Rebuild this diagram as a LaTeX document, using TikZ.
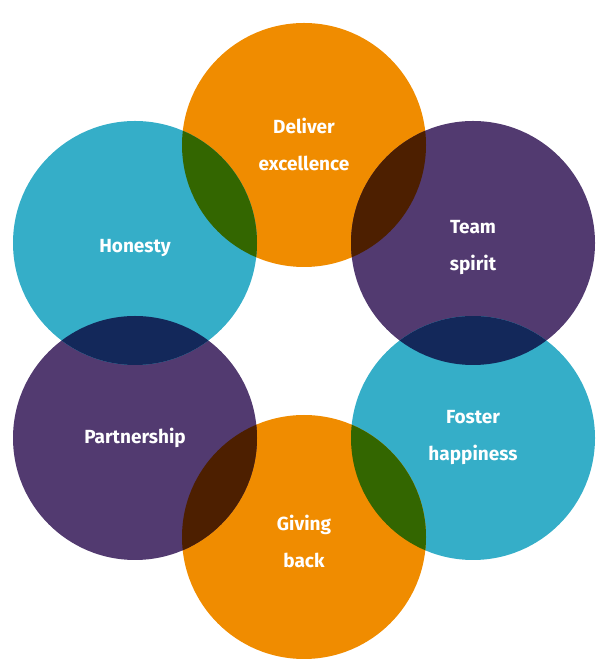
\documentclass[tikz,border=0pt]{standalone}
\usepackage{fontspec}
\setmainfont{Fira Sans}
\definecolor{org}{HTML}{F08C00}
\definecolor{tea}{HTML}{35AEC8}
\definecolor{pur}{HTML}{523A70}
\definecolor{grn}{HTML}{336600}
\definecolor{brn}{HTML}{4D1F00}
\definecolor{nav}{HTML}{13285A}
\begin{document}
\begin{tikzpicture}[x=1pt,y=1pt,
  lab/.style={text=white,font=\fontsize{19}{37}\selectfont\bfseries,align=center}]
\useasboundingbox (0,0) rectangle (612,672);
\def\R{122}
\coordinate (A) at (304,527);
\coordinate (B) at (473,429);
\coordinate (C) at (473,234);
\coordinate (D) at (304,135);
\coordinate (E) at (135,234);
\coordinate (F) at (135,429);
\fill[org] (A) circle (\R);
\fill[pur] (B) circle (\R);
\fill[tea] (C) circle (\R);
\fill[org] (D) circle (\R);
\fill[pur] (E) circle (\R);
\fill[tea] (F) circle (\R);
\begin{scope}\clip (A) circle (\R); \fill[brn] (B) circle (\R); \fill[grn] (F) circle (\R);\end{scope}
\begin{scope}\clip (C) circle (\R); \fill[nav] (B) circle (\R); \fill[grn] (D) circle (\R);\end{scope}
\begin{scope}\clip (E) circle (\R); \fill[brn] (D) circle (\R); \fill[nav] (F) circle (\R);\end{scope}
\node[lab] (a) at (304,528) {Deliver\\excellence};
\node[lab] (b) at (473,424) {Team\\spirit};
\node[lab] (c) at (473,234) {Foster\\happiness};
\node[lab] (d) at (304,131) {Giving\\back};
\node[lab] (e) at (135,234) {Partnership};
\node[lab] (f) at (135,424) {Honesty};
\end{tikzpicture}
\end{document}
